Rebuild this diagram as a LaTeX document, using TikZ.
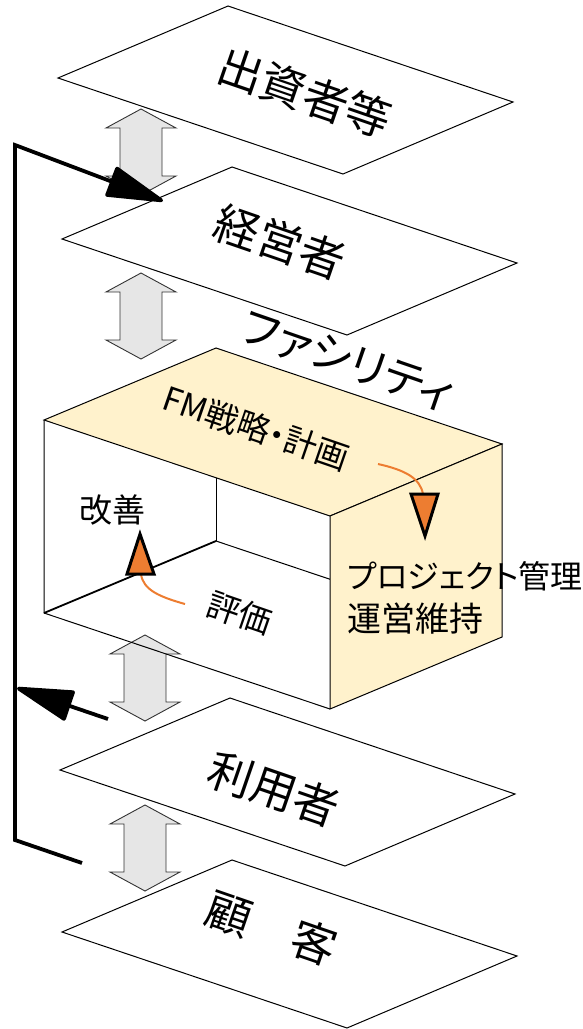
\documentclass[tikz,border=0pt]{standalone}
\usepackage{fontspec}
\newfontfamily\jp[RawFeature=+palt]{Noto Sans CJK JP}
\usetikzlibrary{arrows.meta}
\definecolor{boxfill}{HTML}{FFF2CC}
\definecolor{orng}{HTML}{ED7D31}
\definecolor{arrgray}{HTML}{E6E6E6}
\begin{document}
\begin{tikzpicture}[x=1pt,y=-1pt,
  layer/.style={draw=black, line width=1pt, fill=white},
  dbl/.style={draw=black!80, line width=0.9pt, fill=arrgray},
  boxface/.style={draw=black, line width=1pt, fill=boxfill},
  boxedge/.style={draw=black, line width=1pt},
  fb/.style={draw=black, line width=3.8pt, line join=miter},
  fbtip/.style={-{Triangle[length=62pt,width=32pt,round]}},
  otri/.style={draw=black, line width=3pt, fill=orng, line join=miter},
  ocurve/.style={draw=orng, line width=2pt},
  bigtxt/.style={font=\jp\fontsize{45}{54}\selectfont, rotate=-19, inner sep=0pt},
  midtxt/.style={font=\jp\fontsize{33}{40}\selectfont, inner sep=0pt},
]
\useasboundingbox (0,0) rectangle (583,1029);

\newcommand\dblarrow[2]{%
  \path[dbl] (#1,#2) -- ++(35,19) -- ++(-14,0) -- ++(0,48) -- ++(14,0)
    -- ++(-35,19) -- ++(-35,-19) -- ++(14,0) -- ++(0,-48) -- ++(-14,0) -- cycle;}

% layer 1
\path[layer] (58,78) -- ++(170,-72) -- ++(285,96) -- ++(-170,72) -- cycle;
\dblarrow{141}{109}
% layer 2
\path[layer] (62,239) -- ++(170,-72) -- ++(285,96) -- ++(-170,72) -- cycle;
\dblarrow{141}{273}
\dblarrow{145}{635}

% box
\coordinate (TL) at (44,420);
\coordinate (TB) at (216,348);
\coordinate (TR) at (502,444);
\coordinate (TF) at (330,516);
\coordinate (BL) at (44,613);
\coordinate (BB) at (216,541);
\coordinate (BR) at (502,637);
\coordinate (BF) at (330,709);
\draw[boxedge] (BB) -- (BR);
\draw[boxedge] (BB) -- (TB);
\draw[draw=black, line width=1.8pt] (BL) -- (BB);
\draw[boxedge] (TL) -- (BL) -- (BF);
\path[boxface] (TL) -- (TB) -- (TR) -- (TF) -- cycle;
\path[boxface] (TF) -- (TR) -- (BR) -- (BF) -- cycle;

% layer 3 and 4
\path[layer] (60,770) -- ++(170,-72) -- ++(285,96) -- ++(-170,72) -- cycle;
\dblarrow{145}{805}
\path[layer] (62,932) -- ++(170,-72) -- ++(285,96) -- ++(-170,72) -- cycle;

% texts
\node[bigtxt] (t1) at (305,93) {出資者等};
\node[bigtxt] (t2) at (280,242) {経営者};
\node[bigtxt] (t3) at (274,789) {利用者};
\node[bigtxt] (t4) at (272,928) {顧　客};
\node[font=\jp\fontsize{44}{52}\selectfont, rotate=-19, inner sep=0pt] (fac) at (348,361) {ファシリティ};
\node[midtxt, rotate=-19] (fm) at (256,428) {FM戦略・計画};
\node[midtxt] (kz) at (112,510) {改善};
\node[midtxt, rotate=-19] (hk) at (240,613) {評価};
\node[font=\jp\fontsize{32}{40}\selectfont, inner sep=0pt, anchor=west] (pm) at (347,576) {プロジェクト管理};
\node[font=\jp\fontsize{34}{42}\selectfont, inner sep=0pt, anchor=west] (um) at (347,619) {運営維持};

% orange arrows
\draw[ocurve] (378,464) .. controls (405,470) and (420,478) .. (423,494);
\path[otri] (411,494) -- (438,494) -- (425,536) -- cycle;
\draw[ocurve] (185,604) .. controls (160,597) and (143,590) .. (141,574);
\path[otri] (140,534) -- (154,574) -- (127,574) -- cycle;

% feedback connectors
\coordinate (fbEnd) at (82,863);
\coordinate (fbBot) at (15,840);
\coordinate (fbTop) at (15,145);
\coordinate (fbTip) at (163,201);
\coordinate (fb2Tail) at (108,719);
\coordinate (fb2Tip) at (17,688);
\draw[fb, fbtip] (fbEnd) -- (fbBot) -- (fbTop) -- (fbTip);
\draw[fb, fbtip] (fb2Tail) -- (fb2Tip);
\end{tikzpicture}
\end{document}
